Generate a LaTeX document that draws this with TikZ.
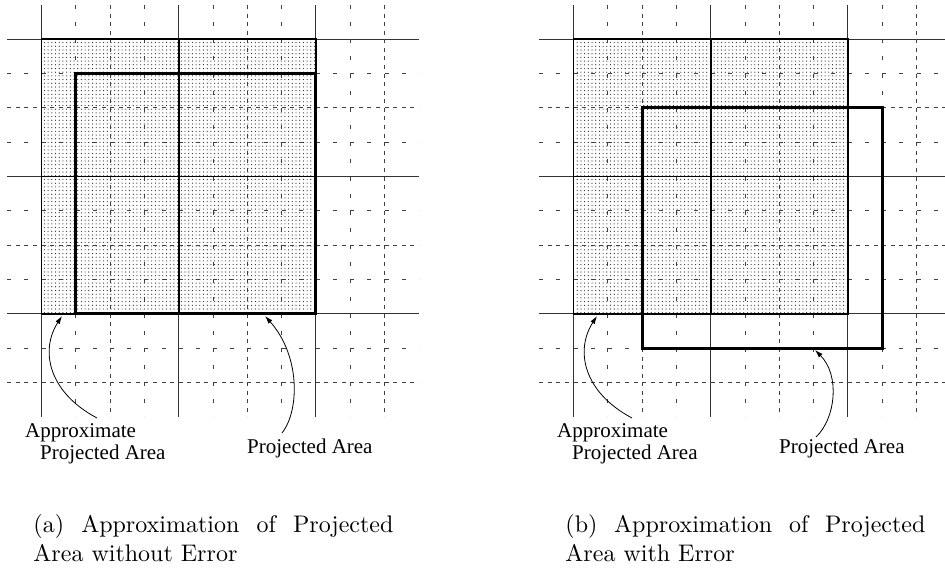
\documentclass[tikz,border=0pt]{standalone}
\usepackage{fontspec}
\newfontfamily\labfont{Liberation Serif}
\usetikzlibrary{patterns.meta,arrows.meta}
\tikzset{
  g0/.style={line width=0.9pt, black!80},
  g2/.style={line width=0.9pt, black!75, dash pattern=on 4pt off 4.575pt},
  g1/.style={line width=0.9pt, black!75, dash pattern=on 4pt off 13.15pt},
  g3/.style={g1},
  dotfill/.style={pattern={Dots[distance=3.7pt,radius=0.6pt]}, pattern color=black!85},
  cellb/.style={line width=1.8pt},
  projb/.style={line width=3pt},
  lab/.style={font=\labfont\fontsize{21}{25}\selectfont, inner sep=0pt, anchor=base west},
  capstyle/.style={font=\fontsize{10}{12.1}\selectfont, inner sep=0pt, anchor=base west, scale=2.4},
  arr/.style={line width=0.8pt, -{Latex[length=8pt,width=5pt]}},
}
\newcommand\panelgrid{%
  \fill[dotfill] (41.5,39.3) rectangle (315.9,313.7);
  \foreach \i in {0,...,10} {
    \pgfmathtruncatemacro\m{mod(\i,4)}
    \draw[g\m] ({41.5+34.3*\i},5) -- ({41.5+34.3*\i},416.6);
    \draw[g\m] (7.2,{39.3+34.3*\i}) -- (418.8,{39.3+34.3*\i});
  }
  \draw[cellb] (41.5,39.3) rectangle (315.9,313.7);
  \draw[cellb] (178.7,39.3) -- (178.7,313.7);
  \draw[cellb] (41.5,176.5) -- (315.9,176.5);
}
\begin{document}
\begin{tikzpicture}[x=1pt,y=-1pt]
\clip (0,0) rectangle (945,568);
% left panel
\begin{scope}
  \panelgrid
  \draw[projb] (75.8,73.6) rectangle (315.9,313.7);
\end{scope}
% right panel
\begin{scope}[xshift=532pt]
  \panelgrid
  \draw[projb] (110.1,107.9) rectangle (350.2,348);
\end{scope}
% labels (a)
\node[lab] (apxA1) at (25,437) {Approximate};
\node[lab] (apxA2) at (40,459) {Projected Area};
\node[lab] (prjA) at (247,453) {Projected Area};
\coordinate (sA1) at (97,418);
\coordinate (tA1) at (62,316);
\coordinate (sA2) at (282,433);
\coordinate (tA2) at (265,316);
\draw[arr] (sA1) .. controls (48,392) and (40,350) .. (tA1);
\draw[arr] (sA2) .. controls (300,410) and (300,355) .. (tA2);
% labels (b)
\node[lab] (apxB1) at (557,437) {Approximate};
\node[lab] (apxB2) at (572,459) {Projected Area};
\node[lab] (prjB) at (779,453) {Projected Area};
\coordinate (sB1) at (632,418);
\coordinate (tB1) at (597,316);
\coordinate (sB2) at (816,437);
\coordinate (tB2) at (815,350);
\draw[arr] (sB1) .. controls (583,392) and (575,350) .. (tB1);
\draw[arr] (sB2) .. controls (836,418) and (840,375) .. (tB2);
% captions
\node[capstyle] (capA) at (33,532) {\parbox[t]{150pt}{\tolerance=10000\hyphenpenalty=10000 (a) Approximation of Projected\linebreak Area without Error}};
\node[capstyle] (capB) at (565,532) {\parbox[t]{150pt}{\tolerance=10000\hyphenpenalty=10000 (b) Approximation of Projected\linebreak Area with Error}};
\end{tikzpicture}
\end{document}
